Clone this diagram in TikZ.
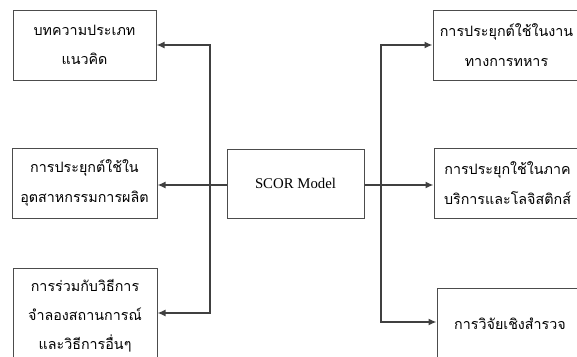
\documentclass[tikz,border=0pt]{standalone}
\usepackage{fontspec}
\setmainfont{Liberation Serif}
\newfontfamily\thaifont[Script=Thai]{Loma}
\usepackage{tikz}
\usetikzlibrary{arrows.meta}

\begin{document}
\begin{tikzpicture}[x=1pt, y=-1pt, line width=1pt,
		topic/.style={draw=black!70, fill=white, align=center, inner sep=0pt,
			font=\thaifont\fontsize{14.3}{29.5}\selectfont},
		link/.style={draw=black!75, line width=1.5pt, -{Latex[length=8pt,width=7pt]}}]
		\useasboundingbox (0,0) rectangle (577,356);
		\clip (0,0) rectangle (577,356);
		\node[topic, minimum width=143pt, minimum height=70pt] (concept) at (84.5,45) {บทความประเภท\\แนวคิด};
		\node[topic, minimum width=145pt, minimum height=70pt] (industry) at (84.5,183) {การประยุกต์ใช้ใน\\อุตสาหกรรมการผลิต};
		\node[topic, minimum width=144pt, minimum height=96pt, font=\thaifont\fontsize{14.3}{29}\selectfont] (simulation) at (85,316) {การร่วมกับวิธีการ\\จำลองสถานการณ์\\และวิธีการอื่นๆ};
		\node[topic, minimum width=137pt, minimum height=69pt, font=\fontsize{14.8}{18}\selectfont] (scor) at (295.5,183.5) {SCOR Model};
		\node[topic, minimum width=147pt, minimum height=70pt] (military) at (506.5,45) {การประยุกต์ใช้ในงาน\\ทางการทหาร};
		\node[topic, minimum width=147pt, minimum height=70pt] (service) at (507.5,183) {การประยุกใช้ในภาค\\บริการและโลจิสติกส์};
		\node[topic, minimum width=146pt, minimum height=72pt] (survey) at (510,324) {การวิจัยเชิงสำรวจ};
		\coordinate (lsplit) at (210,185);
		\coordinate (rsplit) at (381,185);
		\draw[link] (scor.west |- lsplit) -- (industry.east |- lsplit);
		\draw[link] (lsplit) |- (concept.east);
		\draw[link] (lsplit) |- ([yshift=3pt]simulation.east);
		\draw[link] (scor.east |- rsplit) -- (service.west |- rsplit);
		\draw[link] (rsplit) |- (military.west);
		\draw[link] (rsplit) |- ([yshift=2pt]survey.west);
	\end{tikzpicture}
\end{document}
